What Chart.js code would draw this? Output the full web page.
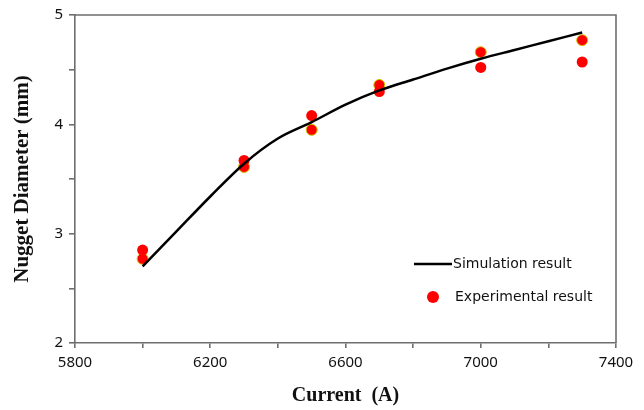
<!DOCTYPE html>
<html>
<head>
<meta charset="utf-8">
<script src="https://cdn.jsdelivr.net/npm/chart.js@4"></script>
<style>
  html, body { margin: 0; padding: 0; background: #fff; }
  #wrap { width: 644px; height: 410px; }
</style>
</head>
<body>
<div id="wrap"><canvas id="nuggetChart"></canvas></div>
<script>
// current values of the experiments (A)
const currentA = [6000, 6300, 6500, 6700, 7000, 7300];
// two measured samples per current (mm)
const expRunA = [2.77, 3.61, 3.95, 4.36, 4.66, 4.77];
const expRunB = [2.85, 3.67, 4.08, 4.30, 4.52, 4.57];

// simulation curve
const simCurrent = [6000, 6100, 6200, 6300, 6400, 6500, 6600, 6700, 6800, 6900, 7000, 7100, 7200, 7300];
const simDiameter = [2.70, 3.02, 3.34, 3.64, 3.87, 4.02, 4.18, 4.31, 4.41, 4.51, 4.60, 4.68, 4.76, 4.84];

const xTicks = [5800, 6200, 6600, 7000, 7400];
const yTicks = [2, 3, 4, 5];

const toPoints = (xs, ys) => xs.map((x, i) => ({ x: x, y: ys[i] }));

const axisColor = '#6e6e6e';
const tickFont = { family: 'Noto Sans', size: 15 };

// box around the plot area
const frame = {
    id: 'frame',
    afterDraw(chart) {
        const { ctx, chartArea: a } = chart;
        ctx.save();
        ctx.strokeStyle = axisColor;
        ctx.lineWidth = 1.6;
        ctx.beginPath();
        ctx.moveTo(a.left, a.top);
        ctx.lineTo(a.right, a.top);
        ctx.lineTo(a.right, a.bottom);
        ctx.stroke();
        ctx.restore();
    }
};

// legend inside the plot, lower right
const innerLegend = {
    id: 'innerLegend',
    afterDraw(chart) {
        const ctx = chart.ctx;
        const sim = chart.data.datasets[2];
        const exp = chart.data.datasets[1];
        ctx.save();
        ctx.font = '14px "DejaVu Sans"';
        ctx.fillStyle = '#111';
        ctx.textBaseline = 'middle';

        ctx.strokeStyle = sim.borderColor;
        ctx.lineWidth = 2.5;
        ctx.beginPath();
        ctx.moveTo(414, 264);
        ctx.lineTo(452, 264);
        ctx.stroke();
        ctx.fillText(sim.label, 453, 264);

        ctx.fillStyle = exp.backgroundColor;
        ctx.beginPath();
        ctx.arc(433, 297, 6, 0, Math.PI * 2);
        ctx.fill();
        ctx.fillStyle = '#111';
        ctx.fillText(exp.label, 455, 297);
        ctx.restore();
    }
};

new Chart(document.getElementById('nuggetChart'), {
    type: 'scatter',
    data: {
        datasets: [
            {
                label: 'Experimental result',
                data: toPoints(currentA, expRunA),
                backgroundColor: '#ff0000',
                borderColor: '#c9c400',
                borderWidth: 1,
                pointRadius: 5.5,
                order: 3
            },
            {
                label: 'Experimental result',
                data: toPoints(currentA, expRunB),
                backgroundColor: '#ff0000',
                borderColor: '#ff0000',
                borderWidth: 0,
                pointRadius: 5.5,
                order: 2
            },
            {
                label: 'Simulation result',
                data: toPoints(simCurrent, simDiameter),
                showLine: true,
                borderColor: '#000000',
                borderWidth: 2.5,
                pointRadius: 0,
                cubicInterpolationMode: 'monotone',
                order: 1
            }
        ]
    },
    options: {
        responsive: true,
        maintainAspectRatio: false,
        animation: false,
        layout: { padding: { top: 13, right: 28, left: 0, bottom: 0 } },
        plugins: {
            legend: { display: false },
            tooltip: { enabled: false }
        },
        scales: {
            x: {
                type: 'linear',
                min: 5800,
                max: 7400,
                afterFit: s => { s.height = 67; },
                ticks: {
                    stepSize: 200,
                    color: '#111',
                    font: tickFont,
                    padding: 6,
                    maxRotation: 0,
                    callback: v => xTicks.includes(v) ? String(v) : ''
                },
                grid: { drawOnChartArea: false, tickLength: 5, color: axisColor, lineWidth: 1.6 },
                border: { color: axisColor, width: 1.6 },
                title: {
                    display: true,
                    text: 'Current  (A)',
                    color: '#111',
                    font: { family: 'Liberation Serif', size: 20, weight: 'bold' },
                    padding: { top: 0, bottom: 2 }
                }
            },
            y: {
                type: 'linear',
                min: 2,
                max: 5,
                afterFit: s => { s.width = 75; },
                ticks: {
                    stepSize: 0.5,
                    color: '#111',
                    font: tickFont,
                    padding: 6,
                    callback: v => yTicks.includes(v) ? String(v) : ''
                },
                grid: { drawOnChartArea: false, tickLength: 6, color: axisColor, lineWidth: 1.6 },
                border: { color: axisColor, width: 1.6 },
                title: {
                    display: true,
                    text: 'Nugget Diameter (mm)',
                    color: '#111',
                    font: { family: 'Liberation Serif', size: 21, weight: 'bold' },
                    padding: { top: 10, bottom: 0 }
                }
            }
        }
    },
    plugins: [frame, innerLegend]
});
</script>
</body>
</html>
